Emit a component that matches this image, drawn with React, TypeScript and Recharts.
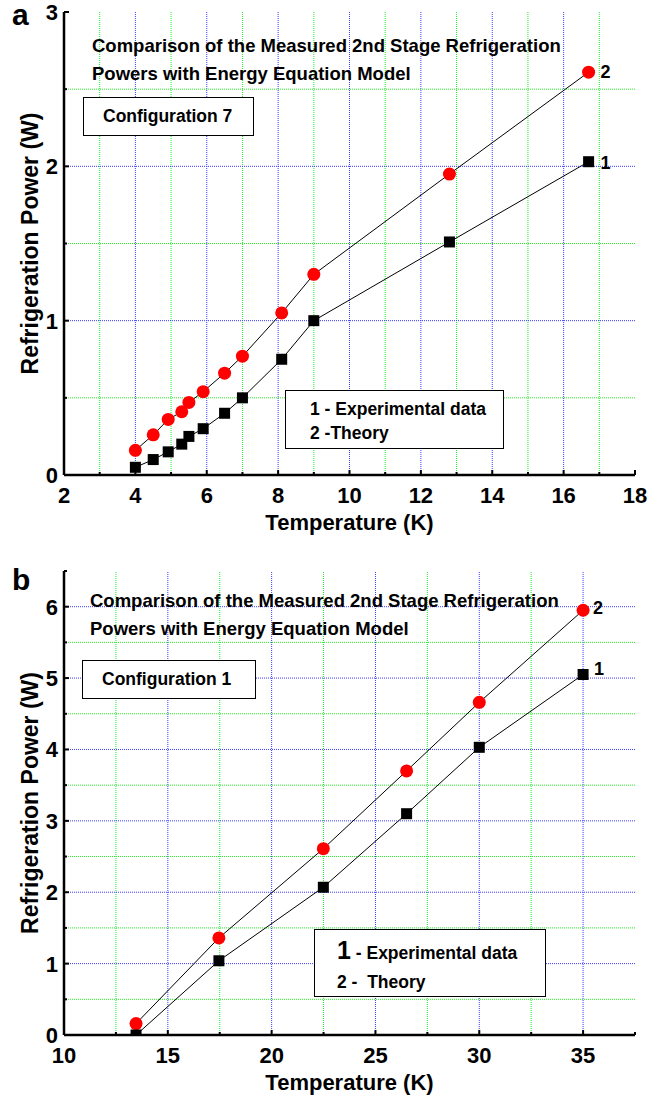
import React from 'react';
import { LineChart, Line, XAxis, YAxis, ReferenceLine, LabelList } from 'recharts';

// panel a: configuration 7
const tempA = [4.0, 4.5, 4.92, 5.3, 5.5, 5.9, 6.5, 7.0, 8.1, 9.0, 12.8, 16.7];
const expA = [0.05, 0.1, 0.15, 0.2, 0.25, 0.3, 0.4, 0.5, 0.75, 1.0, 1.51, 2.03];
const theoryA = [0.16, 0.26, 0.36, 0.41, 0.47, 0.54, 0.66, 0.77, 1.05, 1.3, 1.95, 2.61];
const xTicksA = [2, 3, 4, 5, 6, 7, 8, 9, 10, 11, 12, 13, 14, 15, 16, 17, 18];
const yTicksA = [0, 0.5, 1, 1.5, 2, 2.5, 3];

// panel b: configuration 1
const tempB = [13.47, 17.46, 22.49, 26.5, 30.0, 35.0];
const expB = [0.0, 1.04, 2.07, 3.1, 4.03, 5.05];
const theoryB = [0.16, 1.36, 2.61, 3.7, 4.66, 5.95];
const xTicksB = [10, 12.5, 15, 17.5, 20, 22.5, 25, 27.5, 30, 32.5, 35, 37.5];
const yTicksB = [0, 0.5, 1, 1.5, 2, 2.5, 3, 3.5, 4, 4.5, 5, 5.5, 6, 6.5];

const FONT = '"Liberation Sans", Arial, Helvetica, sans-serif';
const BLUE = '#3a3aff';
const GREEN = '#22ee22';

type Side = 'bottom' | 'left' | 'top' | 'right';

// inward tick marks, labels only on major values
function makeTick(side: Side, isMajor: (v: number) => boolean, showLabel: boolean) {
  return (props: any) => {
    const { x, y, payload } = props;
    const v = payload.value as number;
    const major = isMajor(v);
    const len = major ? 5 : 3;
    let line;
    if (side === 'bottom') line = <line x1={x} y1={y} x2={x} y2={y - len} />;
    else if (side === 'top') line = <line x1={x} y1={y} x2={x} y2={y + len} />;
    else if (side === 'left') line = <line x1={x} y1={y} x2={x + len} y2={y} />;
    else line = <line x1={x} y1={y} x2={x - len} y2={y} />;
    return (
      <g>
        <g stroke="#000" strokeWidth={2}>{line}</g>
        {showLabel && major && side === 'bottom' && (
          <text x={x} y={y + 28} textAnchor="middle" fill="#000"
            fontFamily={FONT} fontSize={22} fontWeight="bold">{v}</text>
        )}
        {showLabel && major && side === 'left' && (
          <text x={x - 6} y={y + 8} textAnchor="end" fill="#000"
            fontFamily={FONT} fontSize={22} fontWeight="bold">{v}</text>
        )}
      </g>
    );
  };
}

const endLabel = (text: string, dx: number, dy: number, lastIndex: number) => (props: any) => {
  if (props.index !== lastIndex) return null;
  return (
    <text x={props.x + dx} y={props.y + dy} fill="#000"
      fontFamily={FONT} fontSize={18} fontWeight="bold">{text}</text>
  );
};

const squareDot = (props: any) => (
  <rect key={`s${props.index}`} x={props.cx - 5.5} y={props.cy - 5.5} width={11} height={11} fill="#000" />
);
const circleDot = (props: any) => (
  <circle key={`c${props.index}`} cx={props.cx} cy={props.cy} r={6.5} fill="#ff0000" />
);

const xTitle = (props: any) => {
  const vb = props.viewBox;
  return (
    <text x={vb.x + vb.width / 2} y={vb.y + 55} textAnchor="middle" fill="#000"
      fontFamily={FONT} fontSize={22} fontWeight="bold">Temperature (K)</text>
  );
};
const yTitle = (props: any) => {
  const vb = props.viewBox;
  const cx = vb.x + 24;
  const cy = vb.y + vb.height / 2;
  return (
    <text x={cx} y={cy} transform={`rotate(-90 ${cx} ${cy})`} textAnchor="middle" fill="#000"
      fontFamily={FONT} fontSize={23} fontWeight="bold">Refrigeration Power (W)</text>
  );
};

interface PanelProps {
  temps: number[];
  exp: number[];
  theory: number[];
  xTicks: number[];
  yTicks: number[];
  xDomain: [number, number];
  yDomain: [number, number];
  xMajor: (v: number) => boolean;
  margin: { top: number; right: number; left: number; bottom: number };
  height: number;
  xAxisHeight: number;
  lbl2: [number, number];
  lbl1: [number, number];
}

function Panel(p: PanelProps) {
  const data = p.temps.map((t, i) => ({ t, exp: p.exp[i], theory: p.theory[i] }));
  const yMajor = (v: number) => Number.isInteger(v);
  const last = data.length - 1;
  return (
    <LineChart width={659} height={p.height} data={data} margin={p.margin}>
      {p.xTicks.filter(v => v !== p.xDomain[0] && v !== p.xDomain[1]).map(v => (
        <ReferenceLine key={`gx${v}`} x={v} xAxisId="b" yAxisId="l"
          stroke={p.xMajor(v) ? BLUE : GREEN} strokeDasharray="1 1" strokeWidth={1} />
      ))}
      {p.yTicks.filter(v => v !== p.yDomain[0] && v !== p.yDomain[1]).map(v => (
        <ReferenceLine key={`gy${v}`} y={v} xAxisId="b" yAxisId="l"
          stroke={yMajor(v) ? BLUE : GREEN} strokeDasharray="1 1" strokeWidth={1} />
      ))}
      <XAxis xAxisId="b" dataKey="t" type="number" domain={p.xDomain} ticks={p.xTicks}
        interval={0} allowDataOverflow height={p.xAxisHeight} tickSize={0} tickMargin={0}
        tickLine={false} axisLine={{ stroke: '#000', strokeWidth: 2.5 }}
        tick={makeTick('bottom', p.xMajor, true)} label={{ content: xTitle }} />
      <XAxis xAxisId="t" orientation="top" dataKey="t" type="number" domain={p.xDomain}
        ticks={p.xTicks} interval={0} allowDataOverflow height={0} tickSize={0} tickMargin={0}
        tickLine={false} axisLine={{ stroke: '#000', strokeWidth: 2.5 }}
        tick={makeTick('top', p.xMajor, false)} />
      <YAxis yAxisId="l" type="number" domain={p.yDomain} ticks={p.yTicks} interval={0}
        allowDataOverflow width={50} tickSize={0} tickMargin={0} tickLine={false}
        axisLine={{ stroke: '#000', strokeWidth: 2.5 }}
        tick={makeTick('left', yMajor, true)} label={{ content: yTitle }} />
      <YAxis yAxisId="r" orientation="right" type="number" domain={p.yDomain} ticks={p.yTicks}
        interval={0} allowDataOverflow width={0} tickSize={0} tickMargin={0} tickLine={false}
        axisLine={{ stroke: '#000', strokeWidth: 2.5 }}
        tick={makeTick('right', yMajor, false)} />
      <Line xAxisId="b" yAxisId="l" type="linear" dataKey="theory" stroke="#000" strokeWidth={1}
        dot={circleDot} activeDot={false} isAnimationActive={false}>
        <LabelList dataKey="theory" content={endLabel('2', p.lbl2[0], p.lbl2[1], last)} />
      </Line>
      <Line xAxisId="b" yAxisId="l" type="linear" dataKey="exp" stroke="#000" strokeWidth={1}
        dot={squareDot} activeDot={false} isAnimationActive={false}>
        <LabelList dataKey="exp" content={endLabel('1', p.lbl1[0], p.lbl1[1], last)} />
      </Line>
    </LineChart>
  );
}

const titleStyle: React.CSSProperties = {
  position: 'absolute', fontFamily: FONT, fontWeight: 700, fontSize: 18.5,
  color: '#000', whiteSpace: 'nowrap', lineHeight: 1,
};
const boxStyle: React.CSSProperties = {
  position: 'absolute', border: '1.5px solid #000', background: '#fff',
  fontFamily: FONT, fontWeight: 700, color: '#000', boxSizing: 'border-box', whiteSpace: 'nowrap',
};
const letterStyle: React.CSSProperties = {
  position: 'absolute', fontFamily: FONT, fontWeight: 700, fontSize: 30, color: '#000', lineHeight: 1,
};

export default function App() {
  return (
    <div style={{ position: 'absolute', left: 0, top: 0, width: 659, height: 1097, background: '#fff' }}>
      <div style={{ position: 'absolute', left: 0, top: 0 }}>
        <Panel temps={tempA} exp={expA} theory={theoryA} xTicks={xTicksA} yTicks={yTicksA}
          xDomain={[2, 18]} yDomain={[0, 3]} xMajor={v => v % 2 === 0}
          margin={{ top: 12, right: 24, left: 14, bottom: 10 }} height={545} xAxisHeight={60}
          lbl2={[12, 6]} lbl1={[12, 7]} />
      </div>
      <div style={{ position: 'absolute', left: 0, top: 552 }}>
        <Panel temps={tempB} exp={expB} theory={theoryB} xTicks={xTicksB} yTicks={yTicksB}
          xDomain={[10, 37.5]} yDomain={[0, 6.5]} xMajor={v => v % 5 === 0}
          margin={{ top: 19, right: 24, left: 14, bottom: 7 }} height={545} xAxisHeight={55}
          lbl2={[10, 4]} lbl1={[11, 0]} />
      </div>

      <div style={{ ...letterStyle, left: 12, top: 0 }}>a</div>
      <div style={{ ...letterStyle, left: 12, top: 565 }}>b</div>

      <div style={{ ...titleStyle, left: 92, top: 37 }}>Comparison of the Measured 2nd Stage Refrigeration</div>
      <div style={{ ...titleStyle, left: 92, top: 65 }}>Powers with Energy Equation Model</div>
      <div style={{ ...boxStyle, left: 83, top: 97, width: 171, height: 39, fontSize: 17.5, lineHeight: '36px', paddingLeft: 19 }}>
        Configuration 7
      </div>
      <div style={{ ...boxStyle, left: 285, top: 390, width: 219, height: 59, fontSize: 17.5, paddingLeft: 24, paddingTop: 6, lineHeight: '24px' }}>
        <div>1 - Experimental data</div>
        <div>2 -Theory</div>
      </div>

      <div style={{ ...titleStyle, left: 90, top: 592 }}>Comparison of the Measured 2nd Stage Refrigeration</div>
      <div style={{ ...titleStyle, left: 90, top: 620 }}>Powers with Energy Equation Model</div>
      <div style={{ ...boxStyle, left: 82, top: 660, width: 174, height: 39, fontSize: 17.5, lineHeight: '36px', paddingLeft: 19 }}>
        Configuration 1
      </div>
      <div style={{ ...boxStyle, left: 314, top: 929, width: 232, height: 68, fontSize: 17.5, paddingLeft: 22, paddingTop: 5 }}>
        <div style={{ lineHeight: '30px' }}><span style={{ fontSize: 25 }}>1</span> - Experimental data</div>
        <div style={{ lineHeight: '28px' }}>2 -&nbsp; Theory</div>
      </div>
    </div>
  );
}
